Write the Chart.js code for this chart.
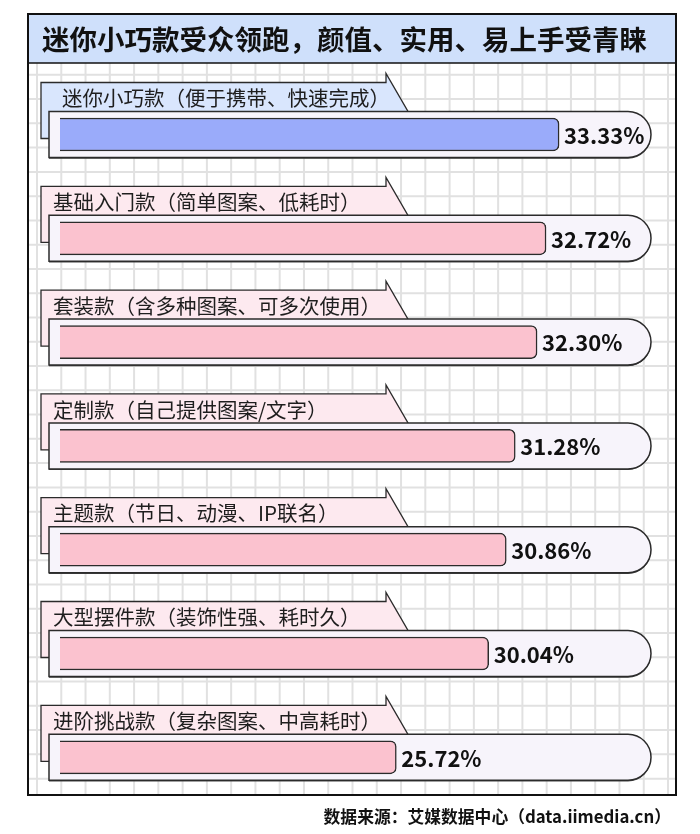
<!DOCTYPE html>
<html><head><meta charset="utf-8">
<script src="https://cdn.jsdelivr.net/npm/chart.js@4.4.1/dist/chart.umd.min.js"></script>
<style>html,body{margin:0;padding:0;background:#fff;}#wrap{width:700px;height:834px;}</style>
</head><body><div id="wrap"><canvas id="c" width="700" height="834"></canvas></div>
<script>
const titleText = '迷你小巧款受众领跑，颜值、实用、易上手受青睐';
const sourceText = '数据来源：艾媒数据中心（data.iimedia.cn）';
const categories = [
  '迷你小巧款（便于携带、快速完成）',
  '基础入门款（简单图案、低耗时）',
  '套装款（含多种图案、可多次使用）',
  '定制款（自己提供图案/文字）',
  '主题款（节日、动漫、IP联名）',
  '大型摆件款（装饰性强、耗时久）',
  '进阶挑战款（复杂图案、中高耗时）'
];
const values = [33.33, 32.72, 32.30, 31.28, 30.86, 30.04, 25.72];
const valueLabels = ['33.33%', '32.72%', '32.30%', '31.28%', '30.86%', '30.04%', '25.72%'];
const highlighted = [true, false, false, false, false, false, false];

const CJK = '"Noto Sans CJK SC", "Noto Sans", sans-serif';
const BLUE_BAR = '#9aabfa', PINK_BAR = '#fbc2cf';
const BLUE_TAB = '#d9e6fd', PINK_TAB = '#fde9ef';
const TRACK = '#f7f4fb', INK = '#2b2b2b';

const decor = {
  id: 'decor',
  beforeDraw(chart) {
    const ctx = chart.ctx;
    ctx.save();
    ctx.fillStyle = '#ffffff';
    ctx.fillRect(0, 0, chart.width, chart.height);
    const fl = 28, fr = 676, ft = 14, fb = 795, tb = 63;
    ctx.save();
    ctx.beginPath(); ctx.rect(fl, tb, fr - fl, fb - tb); ctx.clip();
    ctx.strokeStyle = '#e1e1e1'; ctx.lineWidth = 2;
    for (let x = 37; x < fr; x += 24.27) { ctx.beginPath(); ctx.moveTo(x, tb); ctx.lineTo(x, fb); ctx.stroke(); }
    for (let y = 74.8; y < fb; y += 24.27) { ctx.beginPath(); ctx.moveTo(fl, y); ctx.lineTo(fr, y); ctx.stroke(); }
    ctx.restore();
    ctx.fillStyle = '#cfe0fb';
    ctx.fillRect(fl, ft, fr - fl, tb - ft);
    ctx.strokeStyle = '#111'; ctx.lineWidth = 1.5;
    ctx.beginPath(); ctx.moveTo(fl, tb); ctx.lineTo(fr, tb); ctx.stroke();
    ctx.fillStyle = '#111';
    ctx.font = 'bold 27.5px ' + CJK;
    ctx.textBaseline = 'middle'; ctx.textAlign = 'left';
    ctx.fillText(titleText, 42, 40);
    ctx.restore();
  },
  beforeDatasetsDraw(chart) {
    const ctx = chart.ctx;
    const ys = chart.scales.y;
    const ca = chart.chartArea;
    ctx.save();
    categories.forEach((cat, i) => {
      const c = ys.getPixelForValue(i);
      const left = ca.left - 11, right = 651;
      ctx.beginPath();
      ctx.moveTo(41, c - 52);
      ctx.lineTo(386, c - 52);
      ctx.lineTo(386, c - 61);
      ctx.lineTo(408, c - 23);
      ctx.lineTo(408, c + 4);
      ctx.lineTo(41, c + 4);
      ctx.closePath();
      ctx.fillStyle = highlighted[i] ? BLUE_TAB : PINK_TAB;
      ctx.fill();
      ctx.strokeStyle = INK; ctx.lineWidth = 1.3; ctx.lineJoin = 'miter';
      ctx.stroke();
      ctx.fillStyle = '#1e1e1e';
      ctx.font = '20.5px ' + CJK;
      ctx.textBaseline = 'middle'; ctx.textAlign = 'left';
      ctx.fillText(cat, i === 0 ? 62 : 53, c - 36);
      const h = 23;
      const path = () => {
        ctx.beginPath();
        ctx.moveTo(left, c - h);
        ctx.lineTo(right - h, c - h);
        ctx.arc(right - h, c, h, -Math.PI / 2, Math.PI / 2);
        ctx.lineTo(left, c + h);
        ctx.closePath();
      };
      ctx.save();
      ctx.translate(0, 1.2);
      path(); ctx.fillStyle = '#444'; ctx.fill();
      ctx.restore();
      path();
      ctx.fillStyle = TRACK; ctx.fill();
      ctx.strokeStyle = INK; ctx.lineWidth = 1.5; ctx.stroke();
    });
    ctx.restore();
  },
  afterDatasetsDraw(chart) {
    const ctx = chart.ctx;
    const ys = chart.scales.y, xs = chart.scales.x;
    ctx.save();
    ctx.fillStyle = '#111';
    ctx.font = 'bold 22px ' + CJK;
    ctx.textBaseline = 'middle'; ctx.textAlign = 'left';
    values.forEach((v, i) => {
      const c = ys.getPixelForValue(i);
      ctx.fillText(valueLabels[i], xs.getPixelForValue(v) + 5, c + 1);
    });
    ctx.restore();
  },
  afterDraw(chart) {
    const ctx = chart.ctx;
    ctx.save();
    ctx.strokeStyle = '#111'; ctx.lineWidth = 2;
    ctx.strokeRect(28, 14, 648, 781);
    ctx.fillStyle = '#111';
    ctx.font = 'bold 16.8px ' + CJK;
    ctx.textBaseline = 'middle'; ctx.textAlign = 'right';
    ctx.fillText(sourceText, 671, 817);
    ctx.restore();
  }
};

new Chart(document.getElementById('c'), {
  type: 'bar',
  data: {
    labels: categories,
    datasets: [{
      data: values,
      backgroundColor: highlighted.map(h => h ? BLUE_BAR : PINK_BAR),
      borderColor: INK,
      borderWidth: 1.5,
      borderRadius: 6,
      borderSkipped: false,
      barThickness: 33
    }]
  },
  options: {
    indexAxis: 'y',
    responsive: false,
    devicePixelRatio: 1,
    animation: false,
    layout: { padding: { left: 60, right: 41, top: 82.6, bottom: 24.8 } },
    plugins: { legend: { display: false }, tooltip: { enabled: false } },
    scales: {
      x: { display: false, min: 10, max: 38 },
      y: { display: false }
    }
  },
  plugins: [decor]
});
</script>
</body></html>
